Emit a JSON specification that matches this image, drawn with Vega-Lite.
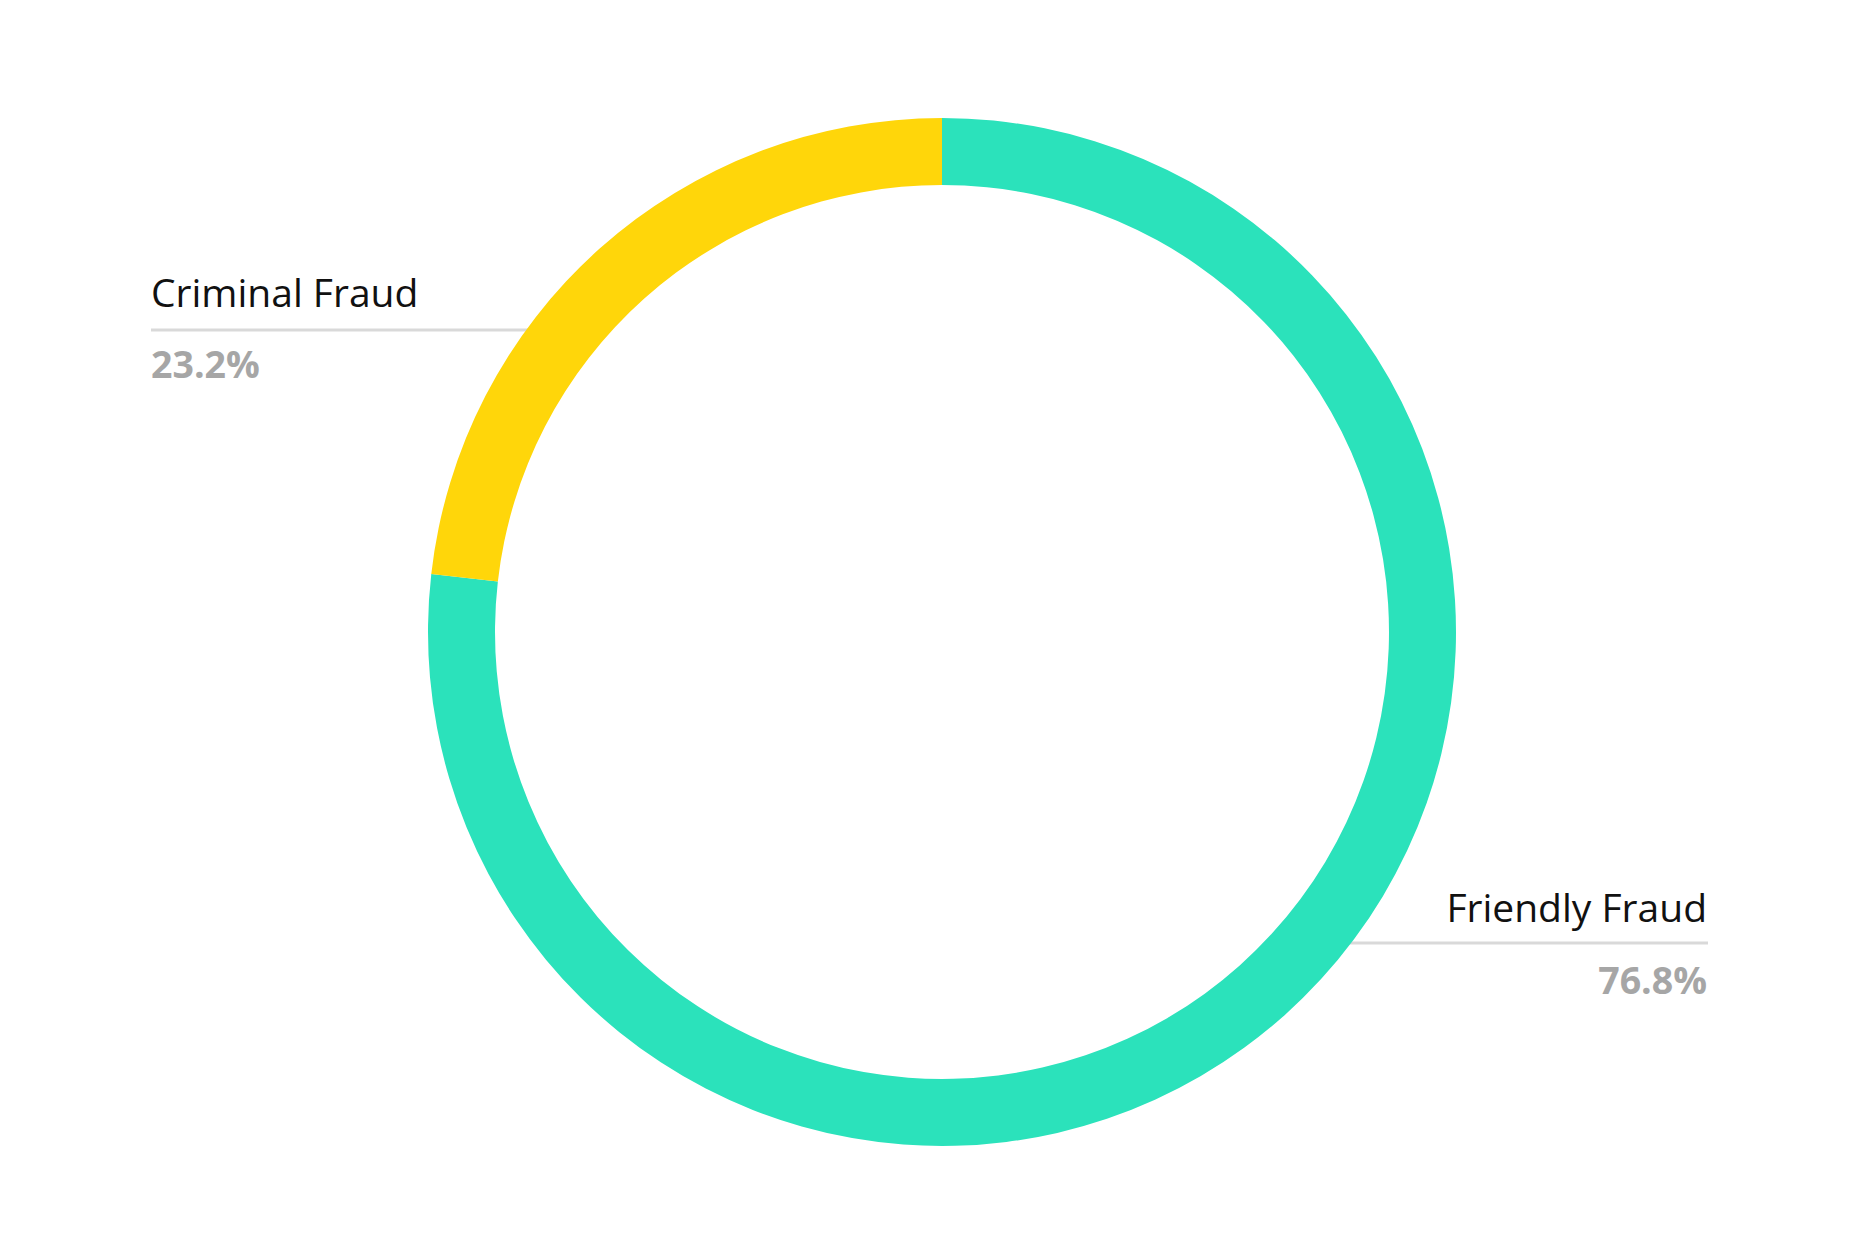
{
  "$schema": "https://vega.github.io/schema/vega-lite/v6.json",
  "width": 1856,
  "height": 1260,
  "autosize": {"type": "fit", "contains": "padding"},
  "padding": {"left": 28, "top": 4, "right": 0, "bottom": 0},
  "background": "white",
  "config": {"view": {"stroke": null}, "font": "Open Sans"},
  "data": {
    "values": [
      {"Category": "Friendly Fraud", "share": 0.768},
      {"Category": "Criminal Fraud", "share": 0.232}
    ]
  },
  "layer": [
    {
      "transform": [{"filter": "datum.Category == 'Criminal Fraud'"}],
      "mark": {"type": "rule", "color": "#d9d9d9", "strokeWidth": 3},
      "encoding": {
        "x": {"datum": -791, "type": "quantitative", "scale": {"domain": [-914, 914], "nice": false, "zero": false}, "axis": null},
        "x2": {"datum": -380},
        "y": {"datum": -302, "type": "quantitative", "scale": {"domain": [628, -628], "nice": false, "zero": false}, "axis": null}
      }
    },
    {
      "transform": [{"filter": "datum.Category == 'Friendly Fraud'"}],
      "mark": {"type": "rule", "color": "#d9d9d9", "strokeWidth": 3},
      "encoding": {
        "x": {"datum": 380, "type": "quantitative"},
        "x2": {"datum": 766},
        "y": {"datum": 311, "type": "quantitative"}
      }
    },
    {
      "mark": {"type": "arc", "innerRadius": 447, "outerRadius": 514},
      "encoding": {
        "theta": {"field": "share", "type": "quantitative", "stack": true},
        "order": {"field": "Category", "sort": "descending"},
        "color": {
          "field": "Category",
          "type": "nominal",
          "scale": {"domain": ["Friendly Fraud", "Criminal Fraud"], "range": ["#2be2bb", "#ffd60a"]},
          "legend": null
        }
      }
    },
    {
      "transform": [{"filter": "datum.Category == 'Criminal Fraud'"}],
      "mark": {"type": "text", "align": "left", "baseline": "alphabetic", "fontSize": 39, "color": "#111111"},
      "encoding": {
        "x": {"datum": -791, "type": "quantitative"},
        "y": {"datum": -325, "type": "quantitative"},
        "text": {"field": "Category"}
      }
    },
    {
      "transform": [{"filter": "datum.Category == 'Criminal Fraud'"}],
      "mark": {"type": "text", "align": "left", "baseline": "alphabetic", "fontSize": 37.5, "fontWeight": "bold", "color": "#a6a6a6"},
      "encoding": {
        "x": {"datum": -791, "type": "quantitative"},
        "y": {"datum": -254, "type": "quantitative"},
        "text": {"field": "share", "format": ".1%"}
      }
    },
    {
      "transform": [{"filter": "datum.Category == 'Friendly Fraud'"}],
      "mark": {"type": "text", "align": "right", "baseline": "alphabetic", "fontSize": 39, "color": "#111111"},
      "encoding": {
        "x": {"datum": 765, "type": "quantitative"},
        "y": {"datum": 290, "type": "quantitative"},
        "text": {"field": "Category"}
      }
    },
    {
      "transform": [{"filter": "datum.Category == 'Friendly Fraud'"}],
      "mark": {"type": "text", "align": "right", "baseline": "alphabetic", "fontSize": 37.5, "fontWeight": "bold", "color": "#a6a6a6"},
      "encoding": {
        "x": {"datum": 765, "type": "quantitative"},
        "y": {"datum": 362, "type": "quantitative"},
        "text": {"field": "share", "format": ".1%"}
      }
    }
  ]
}
